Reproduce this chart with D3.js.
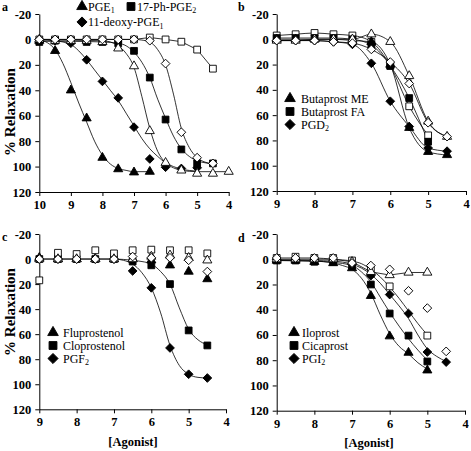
<!DOCTYPE html>
<html><head><meta charset="utf-8">
<script src="https://cdn.jsdelivr.net/npm/d3@7"></script>
<style>
body{margin:0;background:#fff}
text{font-family:"Liberation Serif","Times New Roman",serif;fill:#000}
</style>
</head><body>
<svg id="chart" width="471" height="451"></svg>
<script>
// ---------- DATA ----------
const yTicks = [-20,0,20,40,60,80,100,120];
const xTicksA = [10,9,8,7,6,5,4];
const xTicksB = [9,8,7,6,5,4];

// Panel a
const xA = [10,9.5,9,8.5,8,7.5,7,6.5,6,5.5,5,4.5,4];
const aPGE1   = [1,9,40,62,93,102,104.5,104];
const aPh     = [2,1,1,2,2,3,9,30,63,86.5,97.5,97.5];
const aDeoxy  = [0,1,3,16,33,46,69,94,100.5,101.5,101];
const aOpenTri= [0,1,1,1,2,7,21,72,97,103,105.5,105.5,104];
const aOpenDia= [0,0,0,0,0,0,0,1,19,73,93,97.5];
const aOpenSq = [0,0,0,0,0,0,0,-1.5,0,1.8,8,23];
const fitAPGE1 = [[10,0.5],[9.75,2.5],[9.5,8],[9.25,19],[9,34],[8.75,50],[8.5,65],[8.25,80],[8,91],[7.75,98],[7.5,101.5],[7.25,103],[7,104],[6.5,104]];
const fitADeoxy = [[10,0],[9.5,1],[9,4],[8.75,9],[8.5,16],[8.25,24],[8,32],[7.75,40],[7.5,48],[7.25,58],[7,68],[6.75,78],[6.5,86],[6.25,92],[6,97],[5.75,100],[5.5,102],[5,103.5]];
const fitAPh = [[10,1.5],[9,1.5],[8,2],[7.5,3],[7.25,5],[7,10],[6.75,18],[6.5,30],[6.25,47],[6,62],[5.75,76],[5.5,86],[5.25,92],[5,95.5],[4.75,97],[4.5,98]];
const fitAOpenTri = [[10,0.5],[8,1],[7.75,2],[7.5,5],[7.25,11],[7,22],[6.75,45],[6.5,70],[6.25,88],[6,97],[5.75,101],[5.5,103],[5,104],[4,104]];
const fitAOpenDia = [[10,0],[7,0],[6.75,0.5],[6.5,2],[6.25,8],[6,20],[5.75,43],[5.5,70],[5.25,85],[5,93],[4.75,96.5],[4.5,98]];

// Panel b
const xB = [9,8.5,8,7.5,7,6.5,6,5.5,5,4.5];
const bButME  = [0,0,0,0,1,2,20,70,89,91.5];
const bButFA  = [-1,-1,-1,-1,0,4.5,21,46.5,81];
const bPGD2   = [1,1,1,2,4,19,49,69,86,88.5];
const bOpenTri= [1,1,0,0,0,-4,2,29,65,77];
const bOpenDia= [1,1,1,2,3,8,18,35,66,77];
const bOpenSq = [-3,-4,-5,-4,-3,2,21,53,76];

// Panel c
const xC = [9,8.5,8,7.5,7,6.5,6,5.5,5,4.5];
const cFlupro = [-1,0,0,0,0,0,1,5,10,16];
const cClopro = [0,0,0,0,0,2,5,20,57,69];
const cPGF2   = [0,0,0,0,0,9.5,23,71,92,95];
const cOpenSq = [17,-5,-4,-7,-4.5,-7,-7.5,-7,-7,-4.5];
const cOpenTri= [0,0,0,0,0,0,-2,-3,-1,1];
const cOpenDia= [0,0,0,0,0,-2,-1,-1,1,10];
const fitCClopro = [[9,0],[7,0],[6.5,1],[6.25,2],[6,4],[5.75,10],[5.5,20],[5.25,39],[5,56],[4.75,64.5],[4.5,68.5]];
const fitCPGF2 = [[9,0],[7,0],[6.75,1],[6.5,4],[6.25,11],[6,23],[5.75,43],[5.5,69],[5.25,85],[5,92],[4.75,94.5],[4.5,95]];

// Panel d
const xD = [9,8.5,8,7.5,7,6.5,6,5.5,5,4.5];
const dIlo    = [1,1,2,3,7,29,61,74,88];
const dCica   = [1,1,2,2,5,20,43,60.5,81];
const dPGI2   = [0,0,0,1,4,13,28,43,73.5,81.5];
const dOpenSq = [-1,-2,-1,-1,1,7,21.5,null,60.5];
const dOpenTri= [0,0,0,0,2,10,12.5,10.5,10.5];
const dOpenDia= [-1,-1,-1,-1,3,5,8,25,38.7,73];
const fitDIlo = [[9,1],[8,1.5],[7.5,3],[7.25,5],[7,8],[6.75,15],[6.5,27],[6.25,44],[6,59],[5.75,69],[5.5,75],[5.25,82],[5,87]];
const fitDCica = [[9,1],[8,1.5],[7.5,2.5],[7,5],[6.75,10],[6.5,18],[6.25,30],[6,42],[5.75,53],[5.5,63],[5.25,72],[5,80]];
const fitDPGI2 = [[9,0.5],[8,1],[7.5,1.5],[7,4],[6.75,7],[6.5,12],[6.25,19],[6,28],[5.75,37],[5.5,47],[5.25,60],[5,71],[4.75,77],[4.5,81]];
const fitDOpenSq = [[9,-1],[8,-1],[7.5,0],[7,1.5],[6.75,3.5],[6.5,8],[6.25,14],[6,22],[5.75,31],[5.5,41],[5.25,51],[5,60]];

// ---------- DRAW ----------
const svg = d3.select('#chart');
const SER = "'Liberation Serif','Times New Roman',serif";
const SANS = "'Liberation Sans',Arial,sans-serif";

function marker(g, type, filled, cx, cy, scale){
  const s = scale||1;
  const sizes = {tri:36*s, sq:46*s, dia:38*s};
  const shape = type==='tri' ? d3.symbolTriangle : d3.symbolSquare;
  const p = g.append('path').attr('d', d3.symbol(shape, sizes[type])())
    .attr('fill', filled ? '#000' : '#fff').attr('stroke','#000').attr('stroke-width',0.9);
  if(type==='dia') p.attr('transform',`translate(${cx},${cy}) rotate(45)`);
  else p.attr('transform',`translate(${cx},${cy})`);
}
function pairs(xs, vals){
  return vals.map((v,i)=>[xs[i],v]).filter(d=>d[1]!==null && d[1]!==undefined);
}

function panel(p){
  const x = d3.scaleLinear().domain(p.xDomain).range([p.x0,p.x1]);
  const y = d3.scaleLinear().domain([-20,120]).range([p.y0,p.y1]);
  const g = svg.append('g');
  const ya = g.append('g').attr('transform',`translate(${p.x0},0)`)
    .call(d3.axisLeft(y).tickValues(yTicks).tickSize(4).tickSizeOuter(0).tickPadding(4).tickFormat(d=>String(d)));
  const xa = g.append('g').attr('transform',`translate(0,${p.y1})`)
    .call(d3.axisBottom(x).tickValues(p.xTicks).tickSize(4).tickSizeOuter(0).tickPadding(4).tickFormat(d=>String(d)));
  [ya,xa].forEach(a=>{
    a.selectAll('path,line').attr('stroke','#000').attr('stroke-width',1);
    a.selectAll('text').attr('font-family',SER).attr('font-weight','bold').attr('font-size',12.5).attr('fill','#000');
  });
  const line = d3.line().x(d=>x(d[0])).y(d=>y(d[1]));
  p.series.forEach(s=>{
    let pts=null, cv=d3.curveMonotoneX;
    if(s.fit) pts = s.fit;
    else if(s.line==='smooth') pts = pairs(p.xs, s.vals);
    else if(s.line==='straight'){ pts = pairs(p.xs, s.vals); cv = d3.curveLinear; }
    if(pts) g.append('path').attr('d', line.curve(cv)(pts)).attr('fill','none').attr('stroke','#000').attr('stroke-width',0.8);
  });
  p.series.forEach(s=>{
    pairs(p.xs, s.vals).forEach(d=> marker(g, s.sym, s.filled, x(d[0]), y(d[1])));
  });
  if(p.legend){
    p.legend.forEach(l=>{
      marker(g, l.sym, true, l.mx, l.y, 1.35);
      const t = g.append('text').attr('x', l.tx).attr('y', l.y+4).attr('font-family',SER).attr('font-size',12);
      t.append('tspan').text(l.name);
      if(l.sub) t.append('tspan').attr('font-size',8).attr('dy',2.5).text(l.sub);
    });
  }
  svg.append('text').attr('x',p.lx).attr('y',p.ly).attr('font-family',SANS).attr('font-weight','bold').attr('font-size',12).text(p.letter);
  if(p.ylab){
    svg.append('text').attr('transform',`translate(${p.ylab[0]},${p.ylab[1]}) rotate(-90)`)
      .attr('text-anchor','middle').attr('font-family',SER).attr('font-weight','bold').attr('font-size',15).text('% Relaxation');
  }
  if(p.xlab){
    svg.append('text').attr('x',p.xlab[0]).attr('y',p.xlab[1]).attr('text-anchor','middle')
      .attr('font-family',SER).attr('font-weight','bold').attr('font-size',12.5).text('[Agonist]');
  }
}

panel({
  letter:'a', lx:2, ly:11, xDomain:[10,4], x0:39.3, x1:228.7, y0:14, y1:192, xTicks:xTicksA, xs:xA,
  ylab:[15,112],
  series:[
    {vals:aOpenSq, sym:'sq', filled:false, line:'straight'},
    {vals:aPGE1, sym:'tri', filled:true, fit:fitAPGE1},
    {vals:aPh, sym:'sq', filled:true, fit:fitAPh},
    {vals:aDeoxy, sym:'dia', filled:true, fit:fitADeoxy},
    {vals:aOpenTri, sym:'tri', filled:false, fit:fitAOpenTri},
    {vals:aOpenDia, sym:'dia', filled:false, fit:fitAOpenDia}
  ],
  legend:[
    {sym:'tri', mx:82, tx:88, y:6.5, name:'PGE', sub:'1'},
    {sym:'sq', mx:131, tx:137, y:6.5, name:'17-Ph-PGE', sub:'2'},
    {sym:'dia', mx:82, tx:88, y:22, name:'11-deoxy-PGE', sub:'1'}
  ]
});
panel({
  letter:'b', lx:238, ly:11, xDomain:[9,4], x0:276.7, x1:466, y0:14, y1:191, xTicks:xTicksB, xs:xB,
  series:[
    {vals:bOpenSq, sym:'sq', filled:false, line:'smooth'},
    {vals:bButME, sym:'tri', filled:true, line:'smooth'},
    {vals:bButFA, sym:'sq', filled:true, line:'smooth'},
    {vals:bPGD2, sym:'dia', filled:true, line:'smooth'},
    {vals:bOpenTri, sym:'tri', filled:false, line:'smooth'},
    {vals:bOpenDia, sym:'dia', filled:false, line:'smooth'}
  ],
  legend:[
    {sym:'tri', mx:290, tx:301, y:98.5, name:'Butaprost ME'},
    {sym:'sq', mx:290, tx:301, y:111.5, name:'Butaprost FA'},
    {sym:'dia', mx:290, tx:301, y:124.5, name:'PGD', sub:'2'}
  ]
});
panel({
  letter:'c', lx:2, ly:241, xDomain:[9,4], x0:39.3, x1:226, y0:234, y1:409.3, xTicks:xTicksB, xs:xC,
  ylab:[15,312], xlab:[133,446],
  series:[
    {vals:cFlupro, sym:'tri', filled:true},
    {vals:cClopro, sym:'sq', filled:true, fit:fitCClopro},
    {vals:cPGF2, sym:'dia', filled:true, fit:fitCPGF2},
    {vals:cOpenSq, sym:'sq', filled:false},
    {vals:cOpenTri, sym:'tri', filled:false},
    {vals:cOpenDia, sym:'dia', filled:false}
  ],
  legend:[
    {sym:'tri', mx:53, tx:63, y:332.5, name:'Fluprostenol'},
    {sym:'sq', mx:53, tx:63, y:345.5, name:'Cloprostenol'},
    {sym:'dia', mx:53, tx:63, y:358.5, name:'PGF', sub:'2'}
  ]
});
panel({
  letter:'d', lx:238, ly:242, xDomain:[9,4], x0:276.7, x1:465, y0:234, y1:410.7, xTicks:xTicksB, xs:xD,
  xlab:[369,447],
  series:[
    {vals:dOpenSq, sym:'sq', filled:false, fit:fitDOpenSq},
    {vals:dIlo, sym:'tri', filled:true, fit:fitDIlo},
    {vals:dCica, sym:'sq', filled:true, fit:fitDCica},
    {vals:dPGI2, sym:'dia', filled:true, fit:fitDPGI2},
    {vals:dOpenTri, sym:'tri', filled:false, line:'straight'},
    {vals:dOpenDia, sym:'dia', filled:false}
  ],
  legend:[
    {sym:'tri', mx:294, tx:302, y:332.5, name:'Iloprost'},
    {sym:'sq', mx:294, tx:302, y:345.5, name:'Cicaprost'},
    {sym:'dia', mx:294, tx:302, y:358.5, name:'PGI', sub:'2'}
  ]
});
</script>
</body></html>
